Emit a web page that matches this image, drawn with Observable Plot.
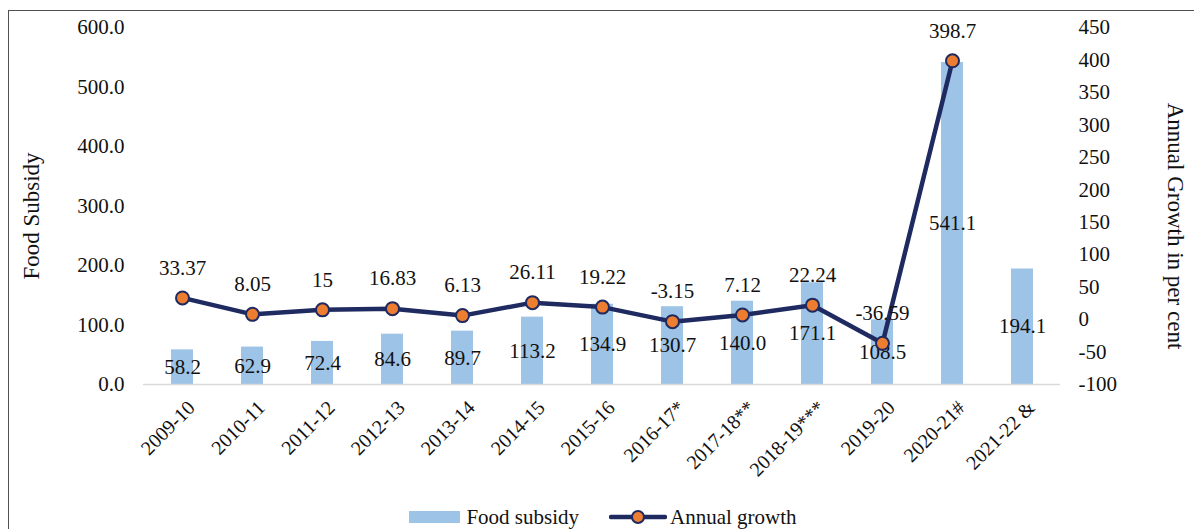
<!DOCTYPE html>
<html><head><meta charset="utf-8">
<script src="https://cdn.jsdelivr.net/npm/d3@7"></script>
<script src="https://cdn.jsdelivr.net/npm/@observablehq/plot@0.6"></script>
<style>
html,body{margin:0;padding:0;background:#fff;}
body{width:1194px;height:529px;overflow:hidden;position:relative;font-family:"Liberation Serif","Times New Roman",serif;}
#frame{position:absolute;left:8px;top:10px;width:1300px;height:700px;border:1.5px solid #505050;box-sizing:border-box;pointer-events:none;}
#chart{position:absolute;left:0;top:0;}
#legend{position:absolute;left:6px;top:505px;width:1194px;height:24px;display:flex;justify-content:center;align-items:center;font-size:21px;color:#111;}
.item{display:flex;align-items:center;}
.sw{width:51px;height:12px;background:#9dc3e6;margin-right:6px;}
</style></head>
<body>
<div id="chart"></div>
<div id="legend">
  <div class="item"><div class="sw"></div><span>Food subsidy</span></div>
  <div class="item" style="margin-left:30px"><svg width="58" height="16" style="margin-right:3px"><line x1="2" y1="8" x2="56" y2="8" stroke="#1f2a60" stroke-width="4.5" stroke-linecap="round"/><circle cx="29" cy="8" r="6" fill="#ed7d31" stroke="#1f2a60" stroke-width="2"/></svg><span>Annual growth</span></div>
</div>
<div id="frame"></div>
<script>
const years = ["2009-10","2010-11","2011-12","2012-13","2013-14","2014-15","2015-16","2016-17*","2017-18**","2018-19***","2019-20","2020-21#","2021-22 &"];
const subsidy = [58.2,62.9,72.4,84.6,89.7,113.2,134.9,130.7,140.0,171.1,108.5,541.1,194.1];
const growth = [33.37,8.05,15,16.83,6.13,26.11,19.22,-3.15,7.12,22.24,-36.59,398.7,null];
const leftTicks = [0,100,200,300,400,500,600];
const rightTicks = [-100,-50,0,50,100,150,200,250,300,350,400,450];

const leftDomain = [0,600];
const rightDomain = [-100,450];
const toLeft = v => (v - rightDomain[0]) * (leftDomain[1]-leftDomain[0]) / (rightDomain[1]-rightDomain[0]);
const fromLeft = v => Math.round(v * (rightDomain[1]-rightDomain[0]) / (leftDomain[1]-leftDomain[0]) + rightDomain[0]);

const data = years.map((y,i)=>({year:y, subsidy:subsidy[i], growth:growth[i]}));
const gdata = data.filter(d=>d.growth!==null);

const ink = "#111";
const chart = Plot.plot({
  width:1194, height:500,
  marginLeft:143, marginRight:134, marginTop:27, marginBottom:116,
  style:{fontFamily:"'Liberation Serif','Times New Roman',serif", fontSize:"21px", color:ink, background:"transparent"},
  x:{domain:years, paddingInner:0.69, paddingOuter:0.345, label:null},
  y:{domain:leftDomain, label:null},
  marks:[
    Plot.axisY(leftTicks, {anchor:"left", tickSize:0, tickPadding:19, tickFormat:d=>d.toFixed(1), fontSize:21, label:null}),
    Plot.axisY(rightTicks.map(toLeft), {anchor:"right", tickSize:0, tickPadding:18, tickFormat:d=>String(fromLeft(d)), fontSize:21, label:null}),
    Plot.axisX({tickSize:0, tickPadding:12, tickRotate:-45, fontSize:20, dx:9, dy:8, label:null}),
    Plot.barY(data, {x:"year", y:"subsidy", fill:"#9dc3e6"}),
    Plot.ruleY([0], {stroke:"#d9d9d9", strokeWidth:1.5}),
    Plot.text(data, {x:"year", y:d=>d.subsidy/2, text:d=>d.subsidy.toFixed(1), fontSize:21, fill:ink}),
    Plot.line(gdata, {x:"year", y:d=>toLeft(d.growth), stroke:"#1f2a60", strokeWidth:4.5}),
    Plot.dot(gdata, {x:"year", y:d=>toLeft(d.growth), r:6.5, fill:"#ed7d31", stroke:"#1f2a60", strokeWidth:2}),
    Plot.text(gdata, {x:"year", y:d=>toLeft(d.growth), text:d=>String(d.growth), dy:-30, fontSize:21, fill:ink}),
    Plot.text(["Food Subsidy"], {frameAnchor:"left", textAnchor:"middle", dx:-112, dy:10, rotate:-90, fontSize:23, fill:ink}),
    Plot.text(["Annual Growth in per cent"], {frameAnchor:"right", textAnchor:"middle", dx:115, dy:20, rotate:90, fontSize:23, fill:ink})
  ]
});
document.getElementById("chart").appendChild(chart);
</script>
</body></html>
